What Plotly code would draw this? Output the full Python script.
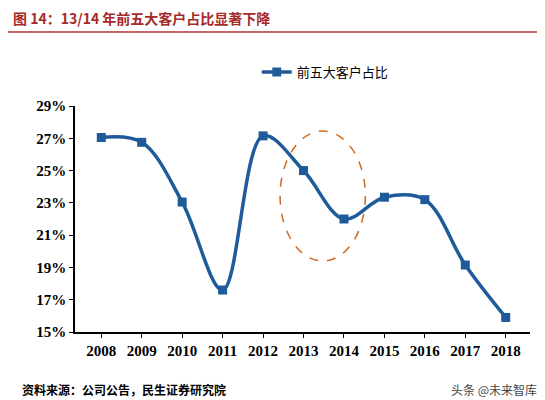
import plotly.graph_objects as go

years = ["2008","2009","2010","2011","2012","2013","2014","2015","2016","2017","2018"]
share = [27.05, 26.75, 23.05, 17.6, 27.15, 25.0, 22.0, 23.35, 23.2, 19.15, 15.9]
yticks = [15, 17, 19, 21, 23, 25, 27, 29]
title = "图 14：13/14 年前五大客户占比显著下降"
source = "资料来源：公司公告，民生证券研究院"
series_name = "前五大客户占比"

blue = "#1F5B9A"
fig = go.Figure()
fig.add_trace(go.Scatter(
    x=list(range(len(years))), y=share, name=series_name, mode="lines+markers",
    line=dict(color=blue, width=3.5, shape="spline", smoothing=1.0),
    marker=dict(symbol="square", size=9, color=blue)))
fig.add_shape(type="circle", xref="x", yref="y", x0=4.42, x1=6.53, y0=19.4, y1=27.45,
              line=dict(color="#D2691E", width=1.5, dash="dash"))
fig.add_shape(type="line", xref="paper", yref="paper", x0=-0.15, x1=1.03, y0=1.327, y1=1.327,
              line=dict(color="#B03030", width=1.5))
font = "Noto Sans CJK SC"
fig.update_layout(
    width=545, height=400, margin=dict(l=67, r=23, t=98, b=76, autoexpand=False),
    paper_bgcolor="white", plot_bgcolor="white",
    font=dict(family=font, color="black"),
    showlegend=True,
    legend=dict(orientation="h", x=0.55, xanchor="center", y=1.15, yanchor="middle",
                font=dict(size=13, family=font)),
    xaxis=dict(tickmode="array", tickvals=list(range(len(years))), ticktext=[f"<b>{y}</b>" for y in years],
               range=[-0.65, 10.6], showline=True, linecolor="black", linewidth=1.5,
               ticks="outside", ticklen=4, tickcolor="black",
               tickfont=dict(family="Liberation Serif", size=15, color="black"), showgrid=False),
    yaxis=dict(tickmode="array", tickvals=yticks, ticktext=[f"<b>{v}%</b>" for v in yticks],
               range=[15, 29], showline=True, linecolor="black", linewidth=1.5,
               ticks="outside", ticklen=4, tickcolor="black", showgrid=False,
               tickfont=dict(family="Liberation Serif", size=15, color="black")),
    annotations=[
        dict(text="<b>" + title + "</b>", xref="paper", yref="paper", x=-0.14, y=1.39, xanchor="left",
             yanchor="middle", showarrow=False, font=dict(size=14, color="#A52A2A", family=font)),
        dict(text="<b>" + source + "</b>", xref="paper", yref="paper", x=-0.12, y=-0.21, xanchor="left",
             yanchor="top", showarrow=False, font=dict(size=12, family=font)),
        dict(text="头条 @未来智库", xref="paper", yref="paper", x=1.02, y=-0.21, xanchor="right",
             yanchor="top", showarrow=False, font=dict(size=12, color="#444", family=font)),
    ])
fig.write_html("out.html")
